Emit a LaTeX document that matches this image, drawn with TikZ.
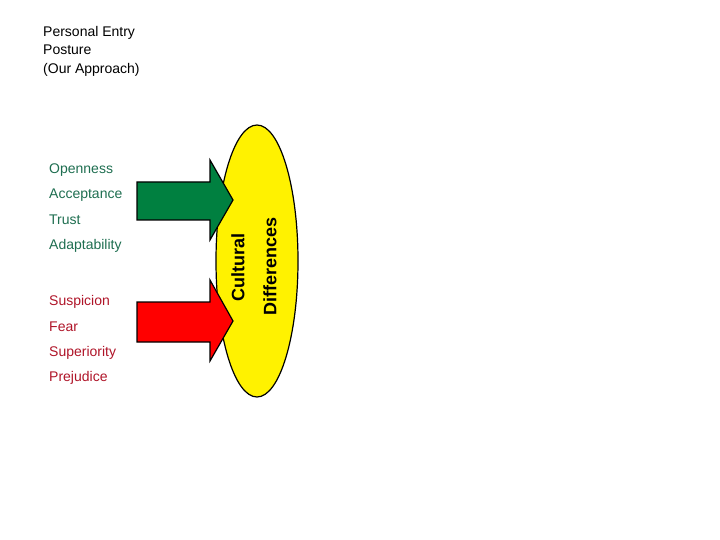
\documentclass[tikz,border=0pt]{standalone}
\usepackage{fontspec}
\setmainfont{Liberation Sans}
\definecolor{arrowGreen}{RGB}{0,128,64}
\definecolor{arrowRed}{RGB}{255,0,0}
\definecolor{labelGreen}{RGB}{30,110,80}
\definecolor{labelRed}{RGB}{175,20,40}
\tikzset{
  posture/.style={fill, draw=black, line width=1.2pt, line join=miter},
  item/.style={anchor=west, inner sep=0pt, font=\fontsize{14}{14}\selectfont},
  culture/.style={rotate=90, inner sep=0pt, font=\fontsize{18}{18}\selectfont\bfseries},
}

\begin{document}
\begin{tikzpicture}[x=1pt,y=-1pt]
        \useasboundingbox (0,0) rectangle (720,540);

        % title
        \node[anchor=north west, inner sep=0pt, align=left,
              font=\fontsize{14}{18.5}\selectfont] (title) at (43,26)
              {Personal Entry\\Posture\\(Our Approach)};

        % cultural differences
        \draw[fill=yellow, line width=1.2pt] (257,261) ellipse (41 and 136);
        \node[culture] (cult) at (238,267) {Cultural};
        \node[culture] (diff) at (270,266) {Differences};

        % positive and negative postures
        \draw[posture, arrowGreen, draw=black] (137,182) -- (210,182) -- (210,160)
             -- (233,200) -- (210,240) -- (210,220) -- (137,220) -- cycle;
        \draw[posture, arrowRed, draw=black] (137,302) -- (210,302) -- (210,280)
             -- (233,321) -- (210,361) -- (210,342) -- (137,342) -- cycle;

        % labels
        \foreach \txt/\y [count=\i] in {Openness/170,Acceptance/195,Trust/220,Adaptability/246}{
          \node[item, labelGreen] (good\i) at (49,\y) {\txt};
        }
        \foreach \txt/\y [count=\i] in {Suspicion/302,Fear/327,Superiority/353,Prejudice/378}{
          \node[item, labelRed] (bad\i) at (49,\y) {\txt};
        }
    \end{tikzpicture}
\end{document}
